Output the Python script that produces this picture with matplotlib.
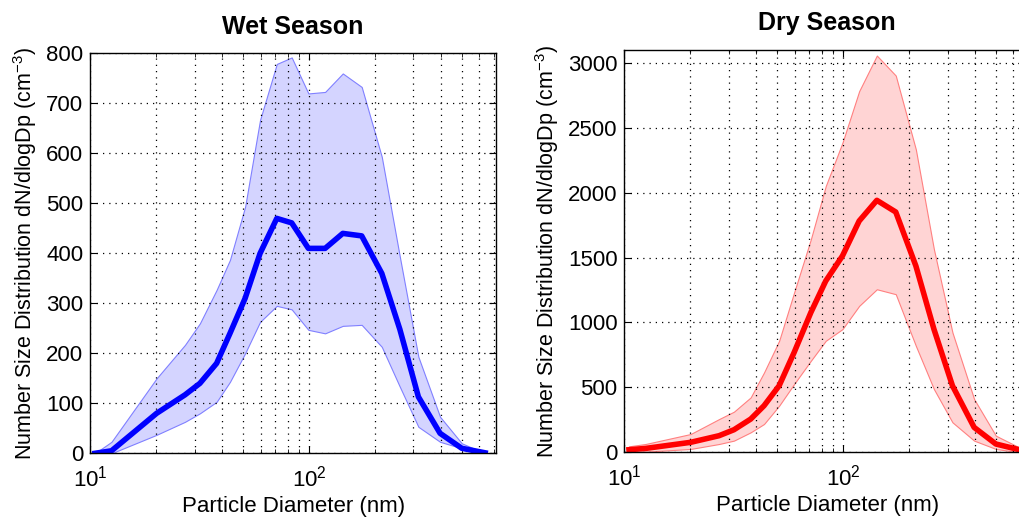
import matplotlib.pyplot as plt

plt.rcParams['font.family'] = ['Liberation Sans', 'DejaVu Sans']
plt.rcParams['mathtext.fontset'] = 'custom'
plt.rcParams['mathtext.rm'] = 'Liberation Sans'

# particle diameters (nm)
diam = [10.5, 12.5, 20.1, 27.1, 31.7, 37.8, 43.5, 51.0, 59.7, 71.2, 83.3, 99.3,
        118.4, 142.6, 174.0, 215.0, 260.0, 316.0, 397.0, 499.0, 638.0]

# wet season: mean and band
wet_mean = [0, 5, 80, 117, 140, 180, 240, 310, 400, 470, 461, 410,
            410, 440, 435, 360, 248, 113, 40, 10, 1]
wet_upper = [0, 23, 150, 217, 260, 327, 387, 493, 667, 779, 792, 720,
             723, 760, 733, 593, 393, 193, 73, 20, 0]
wet_lower = [0, 0, 37, 63, 80, 103, 143, 200, 263, 295, 288, 247,
             240, 255, 257, 213, 133, 53, 23, 10, 0]

# dry season: mean and band
dry_mean = [20, 30, 77, 128, 174, 256, 359, 513, 769, 1077, 1320, 1513,
            1782, 1941, 1851, 1436, 949, 513, 192, 64, 20]
dry_upper = [46, 64, 141, 256, 313, 423, 615, 859, 1231, 1641, 2051, 2385,
             2782, 3056, 2902, 2333, 1564, 923, 410, 128, 38]
dry_lower = [0, 5, 26, 64, 90, 154, 218, 359, 526, 705, 859, 949,
             1128, 1256, 1218, 820, 487, 231, 90, 26, 0]

fig = plt.figure(figsize=(10.19, 5.22), dpi=100)
ax1 = fig.add_axes([0.0886, 0.1316, 0.398, 0.766])
ax2 = fig.add_axes([0.6127, 0.1335, 0.398, 0.771])

panels = [
    (ax1, 'Wet Season', wet_mean, wet_upper, wet_lower, '#0000ff', '#d4d4ff', '#8080ff', 800, range(0, 801, 100)),
    (ax2, 'Dry Season', dry_mean, dry_upper, dry_lower, '#ff0000', '#ffd4d4', '#ff8080', 3100, range(0, 3001, 500)),
]

for ax, title, mean, upper, lower, col, fill, edge, ytop, yt in panels:
    ax.fill_between(diam, lower, upper, facecolor=fill, edgecolor=edge, linewidth=0.8, zorder=2)
    ax.plot(diam, mean, color=col, linewidth=4, zorder=3)
    ax.set_xscale('log')
    ax.set_xlim(10, 714)
    ax.set_ylim(0, ytop)
    ax.set_yticks(list(yt))
    ax.grid(True, which='both', axis='x', color='black', linestyle=(0, (1, 4)), linewidth=0.9)
    ax.grid(True, which='major', axis='y', color='black', linestyle=(0, (1, 4)), linewidth=0.9)
    ax.set_axisbelow(False)
    ax.tick_params(which='both', direction='in', top=True, right=True, labelsize=16)
    ax.tick_params(which='major', length=5)
    ax.tick_params(which='minor', length=3)
    ax.tick_params(axis='x', which='major', pad=9)
    ax.tick_params(axis='y', which='major', pad=5)
    for s in ax.spines.values():
        s.set_linewidth(1.0)
        s.set_zorder(5)
    ax.set_title(title, fontsize=18, fontweight='bold', pad=14)
    ax.set_xlabel('Particle Diameter (nm)', fontsize=16, labelpad=3)
    ax.set_ylabel('Number Size Distribution dN/dlogDp (cm$^{-3}$)', fontsize=15.5, labelpad=5)

fig.savefig('out.png', dpi=100)
